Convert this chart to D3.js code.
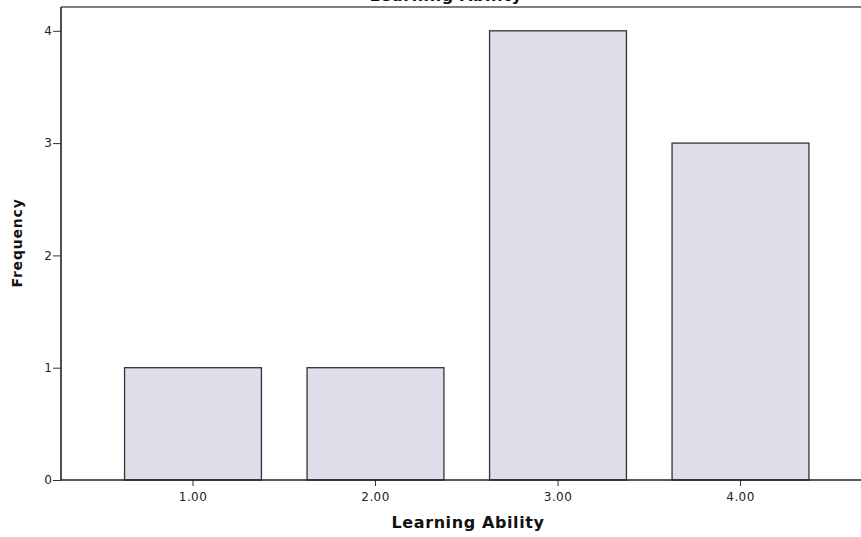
<!DOCTYPE html>
<html>
<head>
<meta charset="utf-8">
<script src="https://cdn.jsdelivr.net/npm/d3@7/dist/d3.min.js"></script>
<style>
  html, body { margin: 0; padding: 0; background: #fff; }
  svg { display: block; }
</style>
</head>
<body>
<svg id="chart" width="861" height="537"></svg>
<script>
const categories = ["1.00", "2.00", "3.00", "4.00"];
const frequencies = [1, 1, 4, 3];
const yTicks = [0, 1, 2, 3, 4];
const chartTitle = "Learning Ability";
const xTitle = "Learning Ability";
const yTitle = "Frequency";

const svg = d3.select("#chart");
const plot = { left: 61, right: 861, top: 7, bottom: 480 };

const x = d3.scaleBand()
  .domain(categories)
  .range([101.75, 831.75])
  .paddingInner(0.25)
  .paddingOuter(0.125);

const y = d3.scaleLinear()
  .domain([0, 4])
  .range([plot.bottom, 30.8]);

// plot frame top border
svg.append("line")
  .attr("x1", plot.left).attr("x2", plot.right)
  .attr("y1", plot.top).attr("y2", plot.top)
  .attr("stroke", "#555").attr("stroke-width", 1.5);

// title (partly above the picture edge, as in the reference)
svg.append("text")
  .attr("x", 446).attr("y", 1)
  .attr("text-anchor", "middle")
  .attr("font-family", "DejaVu Sans")
  .attr("font-weight", "bold")
  .attr("font-size", 16)
  .attr("letter-spacing", 0.6)
  .attr("fill", "#111")
  .text(chartTitle);

// bars
svg.append("g")
  .selectAll("rect")
  .data(categories)
  .join("rect")
  .attr("x", d => x(d))
  .attr("width", x.bandwidth())
  .attr("y", (d, i) => y(frequencies[i]))
  .attr("height", (d, i) => y(0) - y(frequencies[i]))
  .attr("fill", "#e0dce9")
  .attr("stroke", "#333")
  .attr("stroke-width", 1.3);

// y axis
const yAxis = svg.append("g")
  .attr("transform", `translate(${plot.left},0)`)
  .call(d3.axisLeft(y).tickValues(yTicks).tickFormat(d3.format("d")).tickSize(8).tickSizeOuter(0));
yAxis.select(".domain").remove();
yAxis.append("line")
  .attr("x1", 0).attr("x2", 0)
  .attr("y1", plot.top).attr("y2", plot.bottom)
  .attr("stroke", "#222").attr("stroke-width", 1.6);
yAxis.selectAll(".tick line").attr("stroke", "#333");
yAxis.selectAll(".tick text")
  .attr("font-family", "DejaVu Sans")
  .attr("font-size", 12)
  .attr("fill", "#222")
  .attr("x", -9);

// x axis
const xAxis = svg.append("g")
  .attr("transform", `translate(0,${plot.bottom})`)
  .call(d3.axisBottom(x).tickSize(6).tickSizeOuter(0).tickPadding(6));
xAxis.select(".domain").remove();
xAxis.append("line")
  .attr("x1", plot.left).attr("x2", plot.right)
  .attr("y1", 0).attr("y2", 0)
  .attr("stroke", "#222").attr("stroke-width", 1.6);
xAxis.selectAll(".tick line").attr("stroke", "#333");
xAxis.selectAll(".tick text")
  .attr("font-family", "DejaVu Sans")
  .attr("font-size", 12)
  .attr("letter-spacing", 0.4)
  .attr("fill", "#222");

// axis titles
svg.append("text")
  .attr("x", 468).attr("y", 528)
  .attr("text-anchor", "middle")
  .attr("font-family", "DejaVu Sans")
  .attr("font-weight", "bold")
  .attr("font-size", 16)
  .attr("letter-spacing", 0.6)
  .attr("fill", "#111")
  .text(xTitle);

svg.append("text")
  .attr("transform", "translate(22,243) rotate(-90)")
  .attr("text-anchor", "middle")
  .attr("font-family", "DejaVu Sans")
  .attr("font-weight", "bold")
  .attr("font-size", 14)
  .attr("letter-spacing", 0.8)
  .attr("fill", "#111")
  .text(yTitle);
</script>
</body>
</html>
